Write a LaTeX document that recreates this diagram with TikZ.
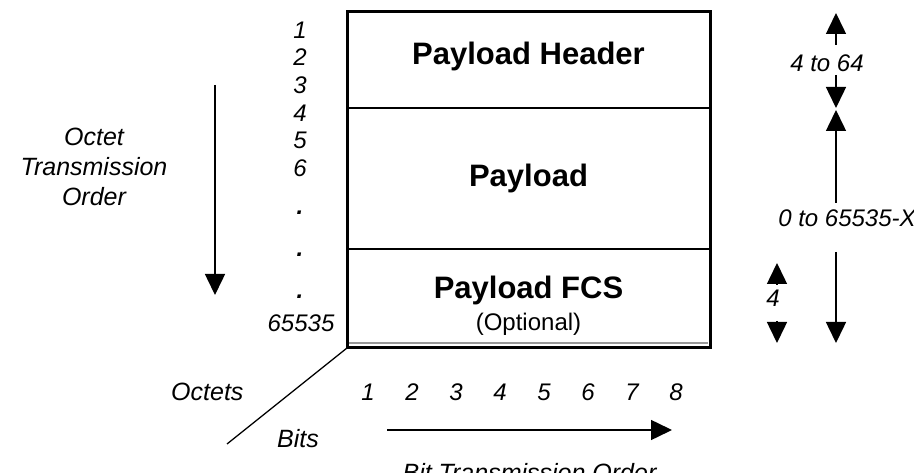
\documentclass[tikz,border=0pt]{standalone}
\usepackage{fontspec}
\setmainfont{Liberation Sans}
\usepackage{tikz}
\usetikzlibrary{arrows.meta}
\usetikzlibrary{positioning}
\tikzstyle{hdr}    = [font=\fontsize{31}{36}\selectfont\bfseries, anchor=base]
\tikzstyle{sub}    = [font=\fontsize{24}{28}\selectfont, anchor=base]
\tikzstyle{lbl}    = [font=\fontsize{25}{30}\selectfont\itshape, anchor=base]
\tikzstyle{num}    = [font=\fontsize{24}{28}\selectfont\itshape, anchor=base]
\tikzstyle{darrow} = [line width=1.5pt, -{Triangle[width=20pt,length=21pt]}]

\begin{document}
\begin{tikzpicture}[x=1pt,y=-1pt]
     \useasboundingbox (0,0) rectangle (914,473);
     \clip (0,0) rectangle (914,473);
% frame
     \draw[line width=1.5pt] (347,108) -- (710,108);
     \draw[line width=1.5pt] (347,249) -- (710,249);
     \draw[black!40, line width=1.5pt] (349,343) -- (708,343);
     \draw[line width=3pt] (347,12) rectangle (710,348);
     \coordinate (corner) at (347,348);
     \coordinate (diag) at (227,444);
     \draw[line width=1.3pt] (corner) -- (diag);
% fields
     \node[hdr] (hdr) at (528.5,65) {Payload Header};
     \node[hdr] (pld) at (528.5,187) {Payload};
     \node[hdr] (fcs) at (528.5,299) {Payload FCS};
     \node[sub] (opt) at (528.5,330.6) {(Optional)};
% octet numbers
     \node[num] (o1) at (300,38.6) {1};
     \node[num] (o2) at (300,65.6) {2};
     \node[num] (o3) at (300,93.6) {3};
     \node[num] (o4) at (300,121.6) {4};
     \node[num] (o5) at (300,148.6) {5};
     \node[num] (o6) at (300,176.6) {6};
     \node[num, font=\fontsize{24}{28}\selectfont\itshape\bfseries] (d1) at (300,214.5) {.};
     \node[num, font=\fontsize{24}{28}\selectfont\itshape\bfseries] (d2) at (300,256.5) {.};
     \node[num, font=\fontsize{24}{28}\selectfont\itshape\bfseries] (d3) at (300,298.5) {.};
     \node[num] (olast) at (301,331.6) {65535};
% octet order
     \node[font=\fontsize{25}{30}\selectfont\itshape, align=center] (octord) at (94,167) {Octet\\Transmission\\Order};
     \coordinate (ordtop) at (215,85);
     \coordinate (ordbot) at (215,295);
     \draw[darrow] (ordtop) -- (ordbot);
% lengths
     \node[num] (hdrlen) at (827,71.6) {4 to 64};
     \coordinate (hdrtip) at (836,13);
     \coordinate (hdra) at (836,45);
     \coordinate (hdrb) at (836,75);
     \coordinate (hdrbot) at (836,108);
     \draw[darrow] (hdra) -- (hdrtip);
     \draw[darrow] (hdrb) -- (hdrbot);
     \node[num] (pldlen) at (847,226.6) {0 to 65535-X};
     \coordinate (pldtip) at (836,110);
     \coordinate (plda) at (836,203);
     \coordinate (pldb) at (836,252);
     \coordinate (pldbot) at (836,343);
     \draw[darrow] (plda) -- (pldtip);
     \draw[darrow] (pldb) -- (pldbot);
     \node[num] (fcslen) at (773,306.6) {4};
     \coordinate (fcstip) at (777,263);
     \coordinate (fcsa) at (777,284);
     \coordinate (fcsb) at (777,321);
     \coordinate (fcsbot) at (777,343);
     \draw[darrow] (fcsa) -- (fcstip);
     \draw[darrow] (fcsb) -- (fcsbot);
% bits
     \node[lbl, anchor=base east] (octets) at (247,400.6) {Octets};
     \node[lbl] (bits) at (298,447) {Bits};
     \node[num] (b1) at (368,400.6) {1};
     \node[num] (b2) at (412,400.6) {2};
     \node[num] (b3) at (456,400.6) {3};
     \node[num] (b4) at (500,400.6) {4};
     \node[num] (b5) at (544,400.6) {5};
     \node[num] (b6) at (588,400.6) {6};
     \node[num] (b7) at (632,400.6) {7};
     \node[num] (b8) at (676,400.6) {8};
     \coordinate (bitl) at (387,430);
     \coordinate (bitr) at (672,430);
     \draw[darrow] (bitl) -- (bitr);
     \node[lbl] (bitord) at (529.5,481) {Bit Transmission Order};
\end{tikzpicture}
\end{document}
